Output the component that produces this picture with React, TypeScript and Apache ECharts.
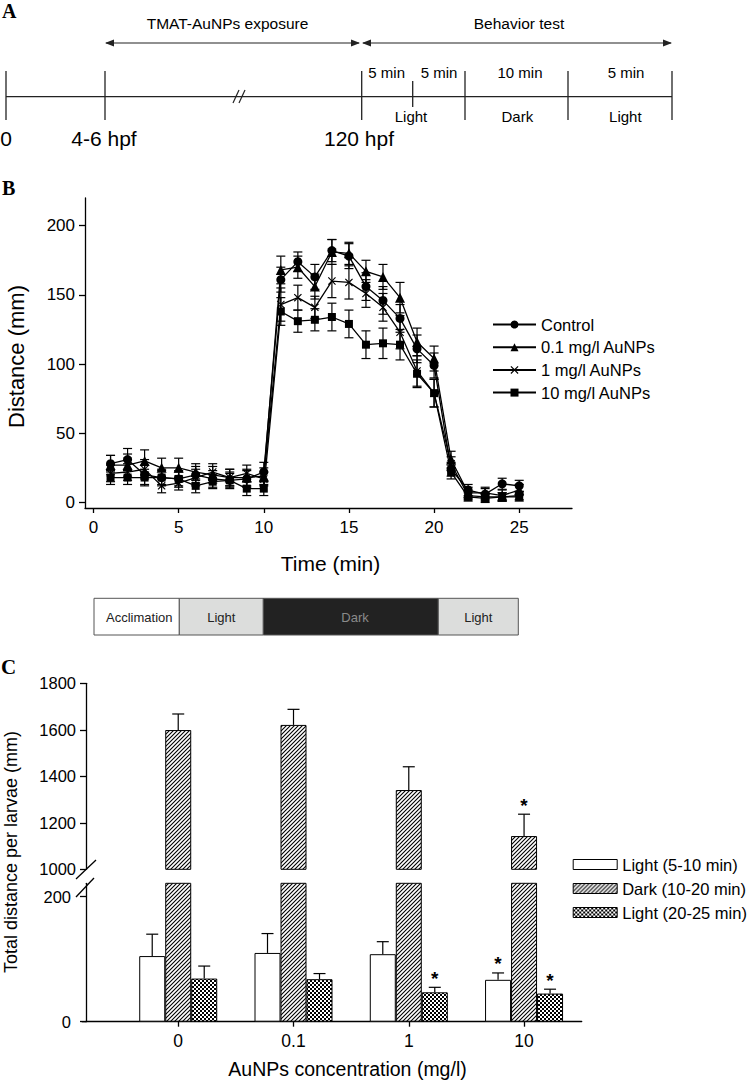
import React, { useEffect, useRef } from "react";
import * as echarts from "echarts";

const FONT = '"Liberation Sans", Arial, Helvetica, sans-serif';
const SERIF = '"Liberation Serif", "Times New Roman", serif';

// ---------- Panel B data ----------
const minutes = [1, 2, 3, 4, 5, 6, 7, 8, 9, 10, 11, 12, 13, 14, 15, 16, 17, 18, 19, 20, 21, 22, 23, 24, 25];
const controlMean = [28, 31, 20, 18, 17, 20, 17, 16, 17, 22, 161, 174, 163, 182, 178, 156, 146, 133, 111, 99, 24, 9, 6, 13.5, 12];
const controlSE = [6, 8, 7, 6, 6, 6, 6, 6, 6, 7, 9, 7, 9, 8, 9, 10, 10, 10, 10, 9, 5, 4, 4, 4, 4];
const au01Mean = [27, 27, 30, 25, 25, 22, 20, 18, 18, 19, 168, 170, 156, 181, 180, 167, 163, 148, 116, 104, 31, 7, 7, 5, 9];
const au01SE = [7, 8, 8, 7, 7, 6, 6, 6, 6, 6, 10, 8, 9, 9, 8, 8, 9, 11, 10, 9, 6, 4, 4, 4, 4];
const au1Mean = [21, 22, 24, 12, 14, 18, 22, 18, 21, 17, 143, 148, 141, 160, 159, 151, 141, 123, 95, 79, 28, 5, 4, 4, 5];
const au1SE = [6, 6, 7, 5, 5, 6, 6, 6, 6, 5, 12, 9, 8, 12, 12, 10, 10, 12, 11, 10, 5, 3, 3, 3, 3];
const au10Mean = [18, 18, 18, 18, 17, 12, 15, 16, 10, 10, 138, 131, 132, 134, 129, 114, 115, 114, 93, 79, 22, 4, 3, 4, 4];
const au10SE = [5, 5, 6, 5, 5, 5, 5, 5, 5, 5, 10, 8, 8, 10, 10, 10, 11, 11, 10, 10, 5, 3, 3, 3, 3];
const seriesNamesB = ["Control", "0.1 mg/l AuNPs", "1 mg/l AuNPs", "10 mg/l AuNPs"];
const timeTicks = [0, 5, 10, 15, 20, 25];
const distanceTicks = [0, 50, 100, 150, 200];

// ---------- Panel C data ----------
const concentrations = ["0", "0.1", "1", "10"];
const concPositions = [0, 1, 2, 3];
const lightEarly = [105, 110, 108, 67];
const lightEarlyErr = [35, 31, 20, 11];
const darkPhase = [1599, 1621, 1341, 1143];
const darkPhaseErr = [69, 67, 100, 94];
const lightLate = [69, 68, 47, 45];
const lightLateErr = [20, 9, 8, 7];
const sigEarly = [0, 0, 0, 1];
const sigDark = [0, 0, 0, 1];
const sigLate = [0, 0, 1, 1];
const seriesNamesC = ["Light (5-10 min)", "Dark (10-20 min)", "Light (20-25 min)"];
const upperTicks = [1000, 1200, 1400, 1600, 1800];
const lowerTicks = [0, 200];

const svgUrl = (s: string) => "data:image/svg+xml;charset=utf-8," + encodeURIComponent(s);
const hatchPattern = {
  image: svgUrl(
    "<svg xmlns='http://www.w3.org/2000/svg' width='4' height='4'><rect width='4' height='4' fill='white'/><path d='M-1,1 L1,-1 M0,4 L4,0 M3,5 L5,3' stroke='black' stroke-width='1.1'/></svg>"
  ),
  repeat: "repeat",
  imageWidth: 4,
  imageHeight: 4,
};
const checkPattern = {
  image: svgUrl(
    "<svg xmlns='http://www.w3.org/2000/svg' width='4' height='4'><rect width='4' height='4' fill='black'/><rect x='0' y='0' width='2' height='2' fill='white'/><rect x='2' y='2' width='2' height='2' fill='white'/></svg>"
  ),
  repeat: "repeat",
  imageWidth: 4,
  imageHeight: 4,
};

const crossSymbol = "path://M1,0 L5,4 L9,0 L10,1 L6,5 L10,9 L9,10 L5,6 L1,10 L0,9 L4,5 L0,1 Z";

const L = (x1: number, y1: number, x2: number, y2: number, w = 1.2, stroke = "#222") => ({
  type: "line",
  silent: true,
  shape: { x1, y1, x2, y2 },
  style: { stroke, lineWidth: w },
});
const T = (text: string, x: number, y: number, size: number, extra: any = {}, rotation = 0) => ({
  type: "text",
  silent: true,
  x,
  y,
  rotation,
  style: {
    text,
    x: 0,
    y: 0,
    fontSize: size,
    fontFamily: FONT,
    fill: "#000",
    textAlign: "center",
    textVerticalAlign: "middle",
    ...extra,
  },
});
const P = (pts: number[][]) => ({ type: "polygon", silent: true, shape: { points: pts }, style: { fill: "#222" } });
const R = (x: number, y: number, w: number, h: number, fill: string) => ({
  type: "rect",
  silent: true,
  shape: { x, y, width: w, height: h },
  style: { fill, stroke: "#555", lineWidth: 1 },
});

function errBarsB(mean: number[], se: number[]) {
  return {
    type: "custom",
    xAxisIndex: 0,
    yAxisIndex: 0,
    silent: true,
    z: 3,
    data: minutes.map((t, i) => [t, mean[i], se[i]]),
    renderItem: (_p: any, api: any) => {
      const x = api.value(0);
      const y = api.value(1);
      const e = api.value(2);
      const a = api.coord([x, y + e]);
      const b = api.coord([x, y - e]);
      const w = 4.5;
      const st = { stroke: "#000", lineWidth: 1.2 };
      return {
        type: "group",
        children: [
          { type: "line", shape: { x1: a[0], y1: a[1], x2: b[0], y2: b[1] }, style: st },
          { type: "line", shape: { x1: a[0] - w, y1: a[1], x2: a[0] + w, y2: a[1] }, style: st },
          { type: "line", shape: { x1: b[0] - w, y1: b[1], x2: b[0] + w, y2: b[1] }, style: st },
        ],
      };
    },
  };
}

function errBarsC(vals: number[], errs: number[], sig: number[], dx: number, axis: number) {
  return {
    type: "custom",
    xAxisIndex: axis,
    yAxisIndex: axis,
    silent: true,
    z: 5,
    data: vals.map((v, i) => [concPositions[i], v, errs[i], sig[i]]),
    renderItem: (_p: any, api: any) => {
      const x = api.value(0);
      const y = api.value(1);
      const e = api.value(2);
      const s = api.value(3);
      const p = api.coord([x, y]);
      const t = api.coord([x, y + e]);
      const cx = p[0] + dx;
      const st = { stroke: "#000", lineWidth: 1.2 };
      const children: any[] = [
        { type: "line", shape: { x1: cx, y1: p[1], x2: cx, y2: t[1] }, style: st },
        { type: "line", shape: { x1: cx - 6, y1: t[1], x2: cx + 6, y2: t[1] }, style: st },
      ];
      if (s) {
        children.push({
          type: "text",
          style: {
            text: "*",
            x: cx,
            y: t[1] - 9,
            textAlign: "center",
            textVerticalAlign: "middle",
            fontSize: 19,
            fontWeight: "bold",
            fontFamily: FONT,
            fill: "#000",
          },
        });
      }
      return { type: "group", children };
    },
  };
}

export default function App() {
  const ref = useRef<HTMLDivElement>(null);

  useEffect(() => {
    if (!ref.current) return;
    const chart = echarts.init(ref.current, undefined, { renderer: "svg" });

    const axisLine = { show: true, onZero: false, lineStyle: { color: "#000", width: 1.3 } };
    const labelStyle = { color: "#000", fontFamily: FONT, formatter: (v: number) => String(v) };

    const graphic: any[] = [
      // Panel A timeline
      L(6, 96.7, 672, 96.7),
      L(6, 71, 6, 120, 1.3),
      L(105, 71, 105, 120, 1.3),
      L(361.7, 71, 361.7, 120, 1.3),
      L(412.7, 81, 412.7, 107, 1.3),
      L(465, 71, 465, 120, 1.3),
      L(568, 71, 568, 120, 1.3),
      L(672, 71, 672, 120, 1.3),
      L(233, 103, 239, 90, 1.2),
      L(239, 103, 245, 90, 1.2),
      // arrows
      L(106, 43, 359, 43),
      P([[105, 43], [114, 39.5], [114, 46.5]]),
      P([[360, 43], [351, 39.5], [351, 46.5]]),
      L(363, 43, 671, 43),
      P([[362, 43], [371, 39.5], [371, 46.5]]),
      P([[672, 43], [663, 39.5], [663, 46.5]]),
      T("TMAT-AuNPs exposure", 227.5, 23, 15.5),
      T("Behavior test", 519, 23, 15.5),
      T("5 min", 386.7, 72, 15),
      T("5 min", 439, 72, 15),
      T("10 min", 520, 72, 15),
      T("5 min", 626, 72, 15),
      T("Light", 411, 116.5, 15),
      T("Dark", 517.3, 116.5, 15),
      T("Light", 625.3, 116.5, 15),
      T("0", 6, 138, 21),
      T("4-6 hpf", 104, 138, 21),
      T("120 hpf", 359, 138, 21),
      // panel letters
      T("A", 2, 11, 20, { fontFamily: SERIF, fontWeight: "bold", textAlign: "left" }),
      T("B", 2, 188, 20, { fontFamily: SERIF, fontWeight: "bold", textAlign: "left" }),
      T("C", 1, 667, 21, { fontFamily: SERIF, fontWeight: "bold", textAlign: "left" }),
      // Panel B titles
      T("Distance (mm)", 16, 356.5, 22, {}, Math.PI / 2),
      T("Time (min)", 330.5, 563, 21),
      // light/dark phase bar
      R(94, 598.3, 85.3, 36.7, "#ffffff"),
      R(179.3, 598.3, 84, 36.7, "#dcdddc"),
      R(263.3, 598.3, 175, 36.7, "#222222"),
      R(438.3, 598.3, 80, 36.7, "#dcdddc"),
      T("Acclimation", 139.3, 617.3, 13, { fill: "#222" }),
      T("Light", 221.3, 617.3, 13, { fill: "#222" }),
      T("Dark", 355, 617.3, 13, { fill: "#8a8a8a" }),
      T("Light", 478.3, 617.3, 13, { fill: "#222" }),
      // Panel C titles
      T("Total distance per larvae (mm)", 11, 852, 18, {}, Math.PI / 2),
      T("AuNPs concentration (mg/l)", 347.5, 1069, 19.5),
      // axis break marks
      L(76, 879, 96, 860, 1.3, "#000"),
      L(76, 897, 94, 878, 1.3, "#000"),
      L(81.7, 1021.7, 86, 1021.7, 1.3, "#000"),
    ];

    const lineSeries = (name: string, data: number[], symbol: string, size: number) => ({
      name,
      type: "line",
      xAxisIndex: 0,
      yAxisIndex: 0,
      data: minutes.map((t, i) => [t, data[i]]),
      symbol,
      symbolSize: size,
      showAllSymbol: true,
      itemStyle: { color: "#000" },
      lineStyle: { color: "#000", width: 1.3 },
      z: 4,
    });

    const barBase = {
      type: "bar",
      barWidth: 26,
      barGap: "0%",
      clip: true,
      itemStyle: { borderColor: "#000", borderWidth: 1 },
    };

    chart.setOption({
      animation: false,
      backgroundColor: "#fff",
      textStyle: { fontFamily: FONT },
      graphic,
      legend: [
        {
          data: seriesNamesB,
          orient: "vertical",
          left: 492,
          top: 316,
          padding: 0,
          itemWidth: 43,
          itemHeight: 10,
          itemGap: 5.7,
          selectedMode: false,
          textStyle: { fontSize: 16.5, color: "#000", fontFamily: FONT },
        },
        {
          data: seriesNamesC,
          orient: "vertical",
          left: 572.7,
          top: 856,
          padding: 0,
          itemWidth: 44,
          itemHeight: 10,
          itemGap: 7,
          icon: "rect",
          selectedMode: false,
          itemStyle: { borderColor: "#000", borderWidth: 1 },
          textStyle: { fontSize: 16.5, color: "#000", fontFamily: FONT },
        },
      ],
      grid: [
        { left: 85, right: 178, top: 198, bottom: 576 },
        { left: 86, right: 168.3, top: 683.3, bottom: 214.7 },
        { left: 86, right: 168.3, top: 883.3, bottom: 62.3 },
      ],
      xAxis: [
        {
          gridIndex: 0,
          type: "value",
          min: -0.5,
          max: 28.1,
          axisLine,
          splitLine: { show: false },
          axisTick: { show: true, length: 5, customValues: timeTicks, lineStyle: { color: "#000", width: 1.3 } },
          axisLabel: { ...labelStyle, fontSize: 17, margin: 11, customValues: timeTicks },
        },
        {
          gridIndex: 1,
          type: "value",
          min: -0.8,
          max: 3.5,
          show: false,
          axisLine: { show: false, onZero: false },
          splitLine: { show: false },
        },
        {
          gridIndex: 2,
          type: "value",
          min: -0.8,
          max: 3.5,
          axisLine,
          splitLine: { show: false },
          axisTick: { show: true, length: 5, customValues: concPositions, lineStyle: { color: "#000", width: 1.3 } },
          axisLabel: {
            ...labelStyle,
            fontSize: 17.5,
            margin: 10,
            customValues: concPositions,
            formatter: (v: number) => concentrations[Math.round(v)] ?? "",
          },
        },
      ],
      yAxis: [
        {
          gridIndex: 0,
          type: "value",
          min: -4,
          max: 220,
          axisLine,
          splitLine: { show: false },
          axisTick: { show: true, length: 6, customValues: distanceTicks, lineStyle: { color: "#000", width: 1.3 } },
          axisLabel: { ...labelStyle, fontSize: 17, margin: 10, customValues: distanceTicks },
        },
        {
          gridIndex: 1,
          type: "value",
          min: 1000,
          max: 1800,
          interval: 200,
          axisLine,
          splitLine: { show: false },
          axisTick: { show: true, length: 6, customValues: upperTicks, lineStyle: { color: "#000", width: 1.3 } },
          axisLabel: { ...labelStyle, fontSize: 16.5, margin: 10, customValues: upperTicks },
        },
        {
          gridIndex: 2,
          type: "value",
          min: 0,
          max: 221.4,
          axisLine,
          splitLine: { show: false },
          axisTick: { show: true, length: 6, customValues: lowerTicks, lineStyle: { color: "#000", width: 1.3 } },
          axisLabel: { ...labelStyle, fontSize: 16.5, margin: 15, customValues: lowerTicks },
        },
      ],
      series: [
        lineSeries(seriesNamesB[0], controlMean, "circle", 9),
        lineSeries(seriesNamesB[1], au01Mean, "triangle", 10),
        lineSeries(seriesNamesB[2], au1Mean, crossSymbol, 8),
        lineSeries(seriesNamesB[3], au10Mean, "rect", 8),
        errBarsB(controlMean, controlSE),
        errBarsB(au01Mean, au01SE),
        errBarsB(au1Mean, au1SE),
        errBarsB(au10Mean, au10SE),
        // Panel C lower segment
        {
          ...barBase,
          name: seriesNamesC[0],
          xAxisIndex: 2,
          yAxisIndex: 2,
          data: lightEarly.map((v, i) => [concPositions[i], v]),
          itemStyle: { ...barBase.itemStyle, color: "#ffffff" },
        },
        {
          ...barBase,
          name: seriesNamesC[1],
          xAxisIndex: 2,
          yAxisIndex: 2,
          data: darkPhase.map((v, i) => [concPositions[i], v]),
          itemStyle: { ...barBase.itemStyle, color: hatchPattern },
        },
        {
          ...barBase,
          name: seriesNamesC[2],
          xAxisIndex: 2,
          yAxisIndex: 2,
          data: lightLate.map((v, i) => [concPositions[i], v]),
          itemStyle: { ...barBase.itemStyle, color: checkPattern },
        },
        // Panel C upper segment (dark phase only)
        {
          ...barBase,
          name: seriesNamesC[1],
          xAxisIndex: 1,
          yAxisIndex: 1,
          data: darkPhase.map((v, i) => [concPositions[i], v]),
          itemStyle: { ...barBase.itemStyle, color: hatchPattern },
        },
        errBarsC(lightEarly, lightEarlyErr, sigEarly, -26, 2),
        errBarsC(lightLate, lightLateErr, sigLate, 26, 2),
        errBarsC(darkPhase, darkPhaseErr, sigDark, 0, 1),
      ],
    });

    return () => chart.dispose();
  }, []);

  return (
    <div
      ref={ref}
      style={{ position: "absolute", left: 0, top: 0, width: 750, height: 1084, background: "#fff" }}
    />
  );
}
